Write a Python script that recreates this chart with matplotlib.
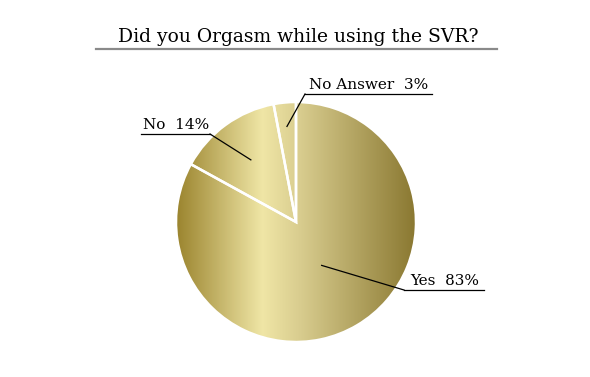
import numpy as np
import matplotlib
matplotlib.use("Agg")
import matplotlib.pyplot as plt
from matplotlib.colors import LinearSegmentedColormap

title = "Did you Orgasm while using the SVR?"
categories = ["Yes", "No", "No Answer"]
values = [83, 14, 3]

W, H = 590, 377
fig = plt.figure(figsize=(W / 100, H / 100), dpi=100)
ax = fig.add_axes([0, 0, 1, 1])
ax.set_xlim(0, W)
ax.set_ylim(0, H)
ax.set_aspect("equal")
ax.axis("off")

cx, cy, r = 296, H - 222, 120
wedges, _ = ax.pie(values, startangle=90, counterclock=False, center=(cx, cy),
                   radius=r, frame=True,
                   wedgeprops=dict(facecolor="none", edgecolor="white", linewidth=1.8))
ax.set_xlim(0, W)
ax.set_ylim(0, H)
ax.axis("off")

cmap = LinearSegmentedColormap.from_list("gold", [
    (0.0, "#9a842e"), (0.36, "#f0e6a6"), (0.52, "#d8cc8e"), (1.0, "#8a7831")])
grad = np.linspace(0, 1, 512)[None, :]
for w in wedges:
    im = ax.imshow(grad, cmap=cmap, extent=[cx - r, cx + r, cy - r, cy + r],
                   aspect="auto", zorder=1, interpolation="bilinear")
    im.set_clip_path(w)
    w.set_zorder(2)
ax.set_xlim(0, W)
ax.set_ylim(0, H)

font = "DejaVu Serif"
ax.text(W / 2 + 3, H - 37, title, ha="center", va="center", fontsize=13.5,
        family=font, color="black")
ax.plot([96, 497], [H - 49, H - 49], color="#8a8a8a", lw=1.6)

# labels: (text, text x, baseline y, underline x0, x1, leader radius fraction, leader end side)
labels = [f"{c}  {v}%" for c, v in zip(categories, values)]
layout = [
    dict(tx=410, ty=287, ux0=404, ux1=484, rf=0.42, end="left"),
    dict(tx=143, ty=131, ux0=141, ux1=210, rf=0.64, end="right"),
    dict(tx=309, ty=91, ux0=305, ux1=432, rf=0.80, end="left"),
]
for w, lab, L in zip(wedges, labels, layout):
    ang = np.deg2rad((w.theta1 + w.theta2) / 2)
    px, py = cx + L["rf"] * r * np.cos(ang), cy + L["rf"] * r * np.sin(ang)
    uy = H - (L["ty"] + 3)
    ex = L["ux0"] if L["end"] == "left" else L["ux1"]
    ax.plot([px, ex], [py, uy], color="black", lw=0.9, zorder=3)
    ax.plot([L["ux0"], L["ux1"]], [uy, uy], color="black", lw=0.9, zorder=3)
    ax.text(L["tx"], uy + 2, lab, ha="left", va="bottom", fontsize=11,
            family=font, color="black")

fig.savefig("out.png", dpi=100)
